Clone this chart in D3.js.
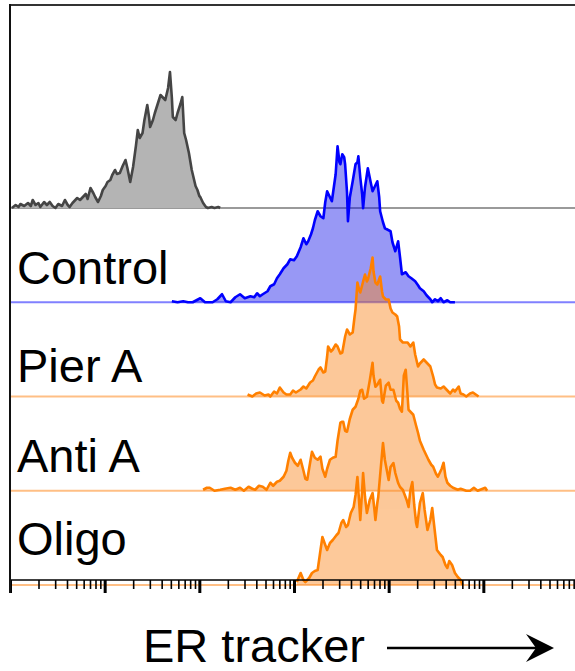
<!DOCTYPE html>
<html><head><meta charset="utf-8">
<script src="https://cdn.jsdelivr.net/npm/d3@7"></script>
<style>body{margin:0;background:#fff}svg{display:block}</style>
</head><body><svg id="c" width="575" height="671"></svg>
<script>
// ---- data (x = log10 of ER tracker intensity, y = event count) ----
const categories = ["Unstained", "Control", "Pier A", "Anti A", "Oligo"];
const rowLabels = ["", "Control", "Pier A", "Anti A", "Oligo"];
const axisTitle = "ER tracker";
const decades = [0, 1, 2, 3, 4, 5, 6];

const unstainedLog = [0.02,0.06,0.09,0.11,0.15,0.19,0.22,0.24,0.27,0.30,0.32,0.36,0.39,0.42,0.45,0.48,0.51,0.55,0.58,0.61,0.63,0.66,0.68,0.71,0.74,0.77,0.80,0.82,0.85,0.88,0.90,0.93,0.96,0.98,1.01,1.03,1.06,1.08,1.11,1.13,1.16,1.19,1.22,1.24,1.27,1.30,1.33,1.35,1.37,1.40,1.42,1.45,1.47,1.48,1.51,1.53,1.56,1.59,1.62,1.64,1.67,1.69,1.71,1.72,1.75,1.77,1.80,1.82,1.84,1.86,1.89,1.92,1.94,1.96,1.98,2.00,2.01,2.04,2.07,2.09,2.13,2.16,2.20,2.22];
const unstainedCount = [0,3,1,4,2,5,2,8,3,5,1,6,3,6,2,0,4,2,8,3,1,5,7,10,8,11,14,9,20,15,11,6,12,18,22,26,28,33,38,34,35,42,48,40,26,41,62,78,70,75,88,103,90,81,88,95,104,113,110,108,120,136,110,91,88,95,104,111,75,68,55,38,30,22,18,12,11,5,1,0,1,0,1,0];

const controlLog = [1.71,1.77,1.83,1.88,1.93,2.01,2.06,2.14,2.19,2.24,2.28,2.33,2.38,2.43,2.48,2.54,2.58,2.61,2.64,2.67,2.72,2.75,2.79,2.82,2.85,2.89,2.93,2.96,3.00,3.03,3.07,3.10,3.13,3.15,3.18,3.20,3.22,3.25,3.28,3.31,3.33,3.35,3.38,3.40,3.44,3.46,3.48,3.49,3.51,3.53,3.54,3.56,3.57,3.59,3.62,3.65,3.67,3.68,3.70,3.72,3.73,3.75,3.78,3.81,3.83,3.85,3.88,3.90,3.91,3.94,3.96,4.00,4.02,4.04,4.07,4.10,4.12,4.14,4.18,4.21,4.24,4.28,4.31,4.33,4.37,4.40,4.44,4.46,4.49,4.52,4.55,4.58,4.62,4.65,4.70];
const controlCount = [1,0,1,0,0,4,0,0,3,8,1,0,5,8,4,6,5,9,6,8,11,16,18,24,28,34,38,43,42,46,55,64,58,61,68,74,82,91,86,84,100,111,105,101,128,156,140,138,148,145,138,110,81,105,121,138,140,146,125,108,94,115,134,120,111,115,121,105,91,80,74,72,71,60,51,61,45,28,30,26,24,21,17,14,11,7,3,0,3,1,4,0,2,0,0];

const pierLog = [2.51,2.56,2.60,2.64,2.69,2.73,2.75,2.79,2.82,2.85,2.89,2.92,2.96,2.99,3.02,3.07,3.10,3.13,3.17,3.20,3.22,3.26,3.28,3.31,3.33,3.35,3.36,3.39,3.41,3.44,3.46,3.49,3.51,3.54,3.56,3.59,3.62,3.64,3.65,3.67,3.69,3.70,3.73,3.75,3.77,3.78,3.81,3.83,3.84,3.86,3.88,3.91,3.93,3.94,3.97,4.00,4.02,4.04,4.07,4.09,4.11,4.12,4.15,4.20,4.23,4.26,4.28,4.31,4.33,4.37,4.40,4.44,4.47,4.49,4.51,4.55,4.58,4.61,4.65,4.68,4.70,4.74,4.76,4.79,4.82,4.86,4.89,4.92,4.95];
const pierCount = [2,0,3,4,1,2,0,5,3,9,4,2,2,6,4,7,10,8,14,16,20,27,29,24,25,40,50,45,47,52,50,43,44,60,67,62,64,80,87,114,106,104,115,122,115,117,128,139,125,114,112,120,105,100,97,97,88,84,82,80,70,57,54,54,50,54,42,30,33,37,34,30,20,12,9,8,10,7,3,7,5,10,3,2,0,3,4,2,0];

const antiLog = [2.04,2.08,2.11,2.16,2.22,2.27,2.33,2.38,2.43,2.47,2.52,2.56,2.59,2.63,2.67,2.71,2.75,2.78,2.82,2.85,2.89,2.92,2.94,2.96,2.98,3.01,3.04,3.07,3.10,3.12,3.14,3.17,3.19,3.22,3.25,3.28,3.30,3.33,3.35,3.38,3.41,3.44,3.46,3.49,3.51,3.52,3.54,3.56,3.59,3.62,3.65,3.68,3.70,3.72,3.74,3.77,3.80,3.83,3.84,3.86,3.88,3.91,3.93,3.94,3.97,4.00,4.02,4.05,4.08,4.10,4.12,4.14,4.16,4.18,4.20,4.21,4.24,4.26,4.29,4.31,4.33,4.37,4.40,4.42,4.45,4.47,4.50,4.52,4.56,4.58,4.60,4.62,4.65,4.68,4.73,4.76,4.79,4.82,4.86,4.90,4.94,5.02,5.04];
const antiCount = [1,3,3,0,1,2,3,1,3,0,4,2,1,5,4,1,8,5,9,10,14,20,30,38,33,28,25,31,20,12,11,28,39,33,31,34,22,14,22,31,33,34,50,68,69,69,60,59,72,81,84,92,100,101,92,94,110,128,115,104,106,111,90,88,105,108,101,101,90,88,82,79,115,121,95,81,78,76,65,58,50,41,35,31,26,24,17,14,22,28,14,8,5,3,1,2,1,0,0,3,0,3,0];

const oligoLog = [3.03,3.07,3.10,3.12,3.16,3.19,3.22,3.25,3.28,3.30,3.33,3.35,3.38,3.41,3.45,3.47,3.50,3.52,3.55,3.57,3.60,3.63,3.65,3.67,3.69,3.70,3.72,3.73,3.75,3.77,3.80,3.83,3.85,3.86,3.88,3.89,3.91,3.94,3.96,4.00,4.02,4.05,4.07,4.10,4.12,4.15,4.19,4.21,4.23,4.25,4.27,4.29,4.30,4.33,4.36,4.38,4.41,4.44,4.46,4.48,4.51,4.55,4.57,4.60,4.62,4.64,4.67,4.70,4.73,4.76,4.78];
const oligoCount = [3,12,5,3,7,12,14,15,35,48,40,35,42,45,50,52,62,65,58,60,72,78,90,108,80,65,95,112,88,72,85,92,75,65,82,88,110,142,125,105,118,122,112,102,98,95,85,78,95,103,80,62,58,82,92,75,55,65,77,60,35,30,28,20,17,24,20,12,8,5,0];

const seriesLog = [unstainedLog, controlLog, pierLog, antiLog, oligoLog];
const seriesCount = [unstainedCount, controlCount, pierCount, antiCount, oligoCount];

// ---- styles ----
const strokeCol = ["#454545", "#0000ff", "#ff8000", "#ff8000", "#ff8000"];
const fillCol = ["#b4b4b4", "rgba(10,10,230,0.42)", "#fa871e", "#fa871e", "#fa871e"];
const baseCol = ["#9a9a9a", "#8080ff", "#ffbf85", "#ffbf85", "#ffbf85"];
const labelLift = [0, 18, 15, 19, 30];
const FONT = "'Liberation Sans', Arial, sans-serif";
const LW = 2.6;

const svg = d3.select("#c");
const x = d3.scaleLog().domain([1, 1e6]).range([10, 578]);
const row = d3.scalePoint().domain(categories).range([208, 585]);
const h = d3.scaleLinear().domain([0, 160]).range([0, 160]);

const pts = categories.map((cat, i) => seriesLog[i].map((l, j) => [Math.pow(10, l), seriesCount[i][j]]));
const areaFor = base => d3.area().x(d => x(d[0])).y0(base).y1(d => base - h(d[1]));
const lineFor = base => d3.line().x(d => x(d[0])).y(d => base - h(d[1]));

// baselines
categories.forEach((cat, i) => {
  svg.append("line").attr("x1", 10).attr("x2", 575).attr("y1", row(cat)).attr("y2", row(cat))
    .attr("stroke", baseCol[i]).attr("stroke-width", 2);
});
// gray + blue (fill then outline)
[0, 1].forEach(i => {
  const base = row(categories[i]);
  svg.append("path").attr("d", areaFor(base)(pts[i])).attr("fill", fillCol[i]);
  svg.append("path").attr("d", lineFor(base)(pts[i])).attr("fill", "none").attr("stroke", strokeCol[i])
    .attr("stroke-width", LW).attr("stroke-linejoin", "round");
});
// orange fills as one translucent layer
const gOrange = svg.append("g").attr("opacity", 0.45);
[2, 3, 4].forEach(i => {
  const base = row(categories[i]);
  gOrange.append("path").attr("d", areaFor(base)(pts[i])).attr("fill", fillCol[i]);
});
[2, 3, 4].forEach(i => {
  const base = row(categories[i]);
  svg.append("path").attr("d", lineFor(base)(pts[i])).attr("fill", "none").attr("stroke", strokeCol[i])
    .attr("stroke-width", LW).attr("stroke-linejoin", "round");
});

// labels
categories.forEach((cat, i) => {
  if (!rowLabels[i]) return;
  svg.append("text").attr("x", 17).attr("y", row(cat) - labelLift[i])
    .attr("font-family", FONT).attr("font-size", 47).attr("fill", "#000").text(rowLabels[i]);
});

// frame
svg.append("line").attr("x1", 10).attr("x2", 575).attr("y1", 5).attr("y2", 5)
  .attr("stroke", "#333").attr("stroke-width", 2);

// x axis: minor + major ticks
const majors = decades.map(k => Math.pow(10, k));
const minors = x.ticks().filter(v => !majors.some(m => Math.abs(m - v) / m < 1e-6));
const gMinor = svg.append("g").attr("transform", "translate(0,580)")
  .call(d3.axisBottom(x).tickValues(minors).tickSize(9).tickFormat(""));
gMinor.select(".domain").remove();
gMinor.selectAll("line").attr("stroke", "#000").attr("stroke-width", 1.6);
const gMajor = svg.append("g").attr("transform", "translate(0,580)")
  .call(d3.axisBottom(x).tickValues(majors).tickSize(13).tickFormat(""));
gMajor.select(".domain").remove();
gMajor.selectAll("line").attr("stroke", "#000").attr("stroke-width", 3);
svg.append("line").attr("x1", 10).attr("x2", 575).attr("y1", 580).attr("y2", 580)
  .attr("stroke", "#000").attr("stroke-width", 1.6);
svg.append("line").attr("x1", 10).attr("x2", 10).attr("y1", 4).attr("y2", 593)
  .attr("stroke", "#111").attr("stroke-width", 2);

// axis title + arrow
svg.append("text").attr("x", 143).attr("y", 662)
  .attr("font-family", FONT).attr("font-size", 47).attr("fill", "#000").text(axisTitle);
svg.append("line").attr("x1", 387).attr("x2", 540).attr("y1", 648).attr("y2", 648)
  .attr("stroke", "#000").attr("stroke-width", 2.5);
svg.append("path").attr("d", "M526,634 L554,648 L526,662 L536,648 Z").attr("fill", "#000");
</script></body></html>
